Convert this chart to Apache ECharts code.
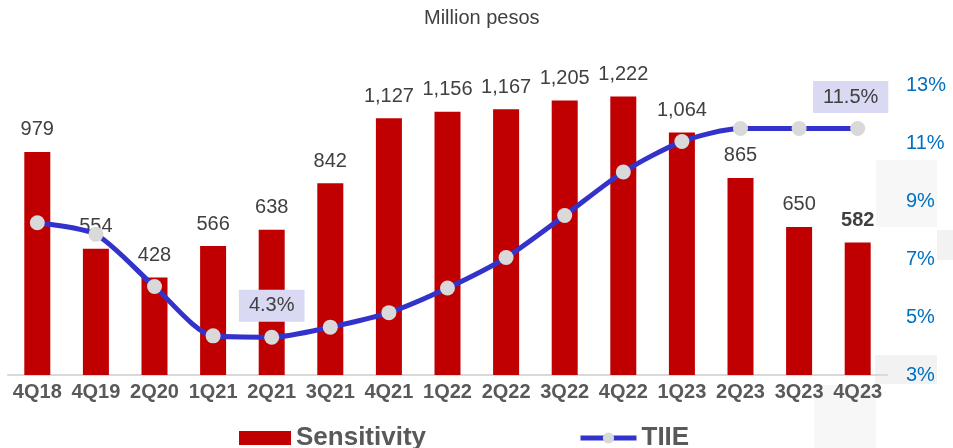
<!DOCTYPE html>
<html>
<head>
	<meta charset="utf-8" />
	<title>Sensitivity vs TIIE</title>
	<style type="text/css">
	*{margin: 0;padding: 0;}
	#main{width: 953px;height: 448px;background: #fff;}
	</style>
</head>
<body>
<div id="main"></div>
<script src="https://cdn.jsdelivr.net/npm/echarts@6/dist/echarts.min.js"></script>
<script type="text/javascript">
	// data
	var quarters = ['4Q18','4Q19','2Q20','1Q21','2Q21','3Q21','4Q21','1Q22','2Q22','3Q22','4Q22','1Q23','2Q23','3Q23','4Q23'];
	var sensitivity = [979, 554, 428, 566, 638, 842, 1127, 1156, 1167, 1205, 1222, 1064, 865, 650, 582];
	var tiie = [8.25, 7.85, 6.05, 4.35, 4.3, 4.65, 5.15, 6.0, 7.05, 8.5, 10.0, 11.05, 11.5, 11.5, 11.5];
	var tiieLabels = { 4: '4.3%', 14: '11.5%' }; // only these two points carry a label
	var rightTicks = [3, 5, 7, 9, 11, 13];

	var grey = '#404040';
	var font = 'Arial, Liberation Sans, sans-serif';

	var barData = sensitivity.map(function(v, i){
		var d = { value: v };
		if ( i == sensitivity.length - 1 ) {
			d.label = { fontWeight: 'bold' };
		}
		return d;
	});

	var lineData = tiie.map(function(v, i){
		var d = { value: v };
		if ( tiieLabels[i] ) {
			d.label = {
				show: true,
				position: 'top',
				distance: 8,
				offset: i == 14 ? [-7, 0] : [0, 0],
				formatter: tiieLabels[i],
				color: grey,
				fontSize: 20,
				fontFamily: font,
				backgroundColor: '#d9d9f3',
				padding: [6, 10, 6, 10]
			};
		}
		return d;
	});

	var legendText = { color: '#595959', fontSize: 26, fontWeight: 'bold', fontFamily: font };

	var opt = {
		animation: false,
		title: {
			text: 'Million pesos',
			left: 419,
			top: 3,
			textStyle: { color: grey, fontSize: 20, fontWeight: 'normal', fontFamily: font }
		},
		legend: [
			{
				data: [{ name: 'Sensitivity', icon: 'rect' }],
				left: 234,
				top: 420,
				itemWidth: 52,
				itemHeight: 14,
				textStyle: legendText
			},
			{
				data: ['TIIE'],
				left: 573,
				top: 420,
				itemWidth: 56,
				itemHeight: 14,
				lineStyle: { width: 5 },
				textStyle: legendText
			}
		],
		grid: { left: 8, right: 66, top: 85, bottom: 73, containLabel: false },
		xAxis: {
			type: 'category',
			data: quarters,
			axisLine: { lineStyle: { color: '#d9d9d9', width: 2 } },
			axisTick: { show: false },
			axisLabel: {
				interval: 0,
				margin: 7,
				color: '#595959',
				fontSize: 20,
				fontWeight: 'bold',
				fontFamily: font
			}
		},
		yAxis: [
			{
				type: 'value',
				min: 0,
				max: 1273,
				show: false
			},
			{
				type: 'value',
				position: 'right',
				min: 3,
				max: 13,
				interval: 1,
				splitLine: { show: false },
				axisLine: { show: false },
				axisTick: { show: false },
				axisLabel: {
					margin: 19,
					color: '#0070C0',
					fontSize: 20,
					fontFamily: font,
					formatter: function(v){
						return rightTicks.indexOf(v) >= 0 ? v + '%' : '';
					}
				}
			}
		],
		series: [
			{
				name: 'Sensitivity',
				type: 'bar',
				yAxisIndex: 0,
				barWidth: 26,
				data: barData,
				itemStyle: { color: '#C00000' },
				label: {
					show: true,
					position: 'top',
					distance: 12,
					color: grey,
					fontSize: 20,
					fontFamily: font,
					formatter: function(p){
						return p.value.toLocaleString('en-US');
					}
				}
			},
			{
				name: 'TIIE',
				type: 'line',
				yAxisIndex: 1,
				data: lineData,
				smooth: 0.25,
				symbol: 'circle',
				symbolSize: 15,
				z: 3,
				lineStyle: { color: '#3333CC', width: 5 },
				itemStyle: { color: '#d9d9d9' },
				label: { show: false }
			}
		],
		graphic: [
			// faint leftover boxes in the source image
			{ type: 'rect', z: -10, shape: { x: 876, y: 160, width: 61, height: 67 }, style: { fill: '#f7f7f7' } },
			{ type: 'rect', z: -10, shape: { x: 937, y: 230, width: 16, height: 30 }, style: { fill: '#f2f2f2' } },
			{ type: 'rect', z: -10, shape: { x: 875, y: 355, width: 62, height: 29 }, style: { fill: '#f2f2f2' } },
			{ type: 'rect', z: -10, shape: { x: 814, y: 385, width: 62, height: 63 }, style: { fill: '#f7f7f7' } }
		]
	};

	var chart = echarts.init(document.getElementById('main'));
	chart.setOption(opt);
</script>
</body>
</html>
